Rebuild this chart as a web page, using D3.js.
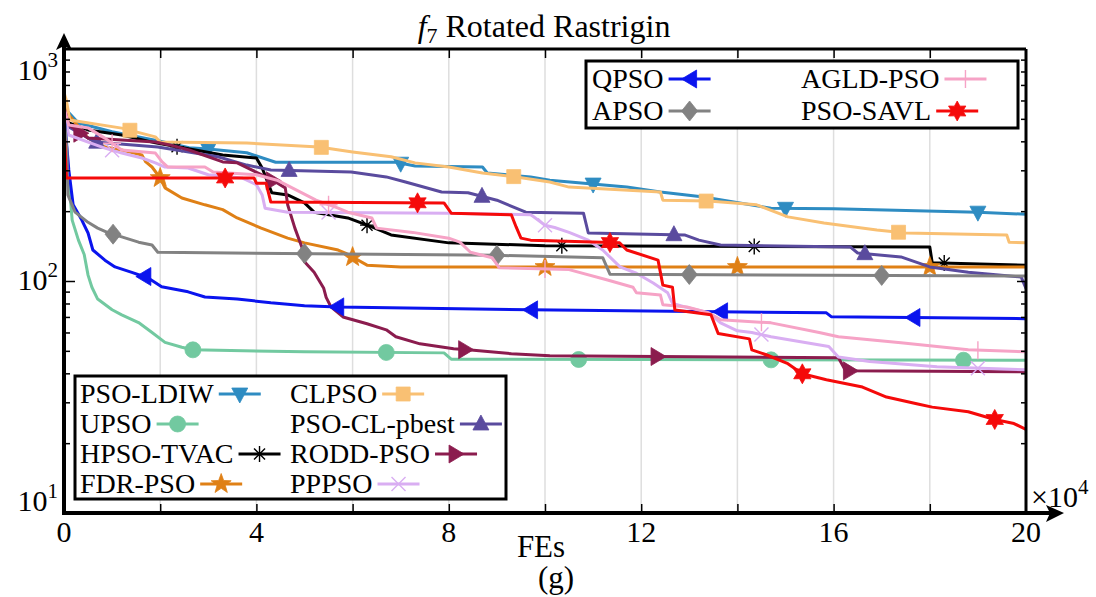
<!DOCTYPE html>
<html><head><meta charset="utf-8">
<script src="https://cdn.jsdelivr.net/npm/d3@7"></script>
<style>
html,body{margin:0;padding:0;background:#fff;}
svg{display:block;}
text{font-family:"Liberation Serif","Times New Roman",Times,serif;fill:#000;}
</style></head><body>
<svg id="chart" width="1096" height="597"></svg>
<script>
// ---- data (FEs in units of 10^4, fitness values) ----
const xLabelTicks = [0, 4, 8, 12, 16, 20];
const xGridTicks = [2, 4, 6, 8, 10, 12, 14, 16, 18];
const yMajorTicks = [10, 100, 1000];
const yMinorTicks = [20, 30, 40, 50, 60, 70, 80, 90, 200, 300, 400, 500, 600, 700, 800, 900];

const PSO_LDIW = [[0,560],[0.3,480],[1.0,440],[2.0,400],[2.6,375],[3.0,371],[3.8,357],[4.4,325],[6.9,325],[7.3,313],[8.7,310],[8.8,292],[9.7,281],[10.1,272],[11.7,254],[12.4,242],[13.3,230],[14.7,206],[16,205],[19,198],[20,194]];
const UPSO = [[0,520],[0.1,272],[0.17,183],[0.3,150],[0.42,130],[0.5,106],[0.58,94],[0.7,83.6],[1.0,75.2],[1.2,71.5],[1.55,66.2],[1.83,60],[2.1,54.4],[2.45,51.8],[2.68,50.5],[5,49.5],[7.9,49.0],[8.05,46],[20,45.5]];
const HPSO_TVAC = [[0,540],[0.1,480],[0.5,448],[1.2,426],[1.9,394],[3.3,349],[4.0,339],[4.12,307],[4.32,240],[4.65,235],[5.0,217],[5.2,198],[5.9,187],[6.4,171],[6.8,158],[8.0,146],[10,142],[18,140],[18.05,120],[20,117]];
const FDR_PSO = [[0,600],[0.1,519],[0.5,413],[0.85,378],[1.2,367],[1.62,349],[1.7,326],[1.83,310],[2.0,278],[2.1,252],[2.45,228],[2.93,213],[3.3,203],[3.6,187],[4.1,169],[4.65,153],[5.0,146],[5.7,136],[5.85,132],[6.3,117],[7,115],[20,115]];
const CLPSO = [[0,650],[0.05,600],[0.12,494],[1.2,456],[1.9,418],[2.0,397],[3.8,393],[5.3,378],[6.0,360],[6.8,343],[7.3,323],[8.0,310],[8.7,292],[9.4,281],[10.1,267],[10.5,254],[12.4,242],[12.45,223],[13.4,221],[14.4,213],[15.05,189],[15.8,178],[16.9,166],[17.5,161],[19.6,158],[19.65,147],[20,146]];
const PSO_CL_pbest = [[0,520],[0.1,461],[0.65,397],[1.95,378],[3.2,343],[3.8,316],[4.3,301],[5.97,295],[6.7,281],[7.1,267],[7.85,242],[8.4,240],[9.0,223],[9.6,198],[10.8,196],[10.9,161],[12.9,158],[13.2,150],[13.65,143],[16.35,140],[16.5,132],[17.4,127],[18.0,115],[18.8,109],[19.9,104],[20,93]];
const RODD_PSO = [[0,560],[0.1,470],[0.5,413],[1.9,397],[2.2,386],[2.6,367],[3.3,326],[3.6,323],[4.2,281],[4.4,267],[4.6,252],[4.65,213],[4.8,169],[4.95,139],[5.0,121],[5.2,109],[5.4,93],[5.45,85],[5.55,77.3],[5.8,70],[6.3,65.4],[6.7,61.6],[6.9,57.5],[7.4,53.6],[8.1,51.0],[8.4,50.5],[9.3,48.6],[10.1,47.6],[16.1,46.7],[16.25,41.0],[20,40.6]];
const PPPSO = [[0,540],[0.1,426],[0.5,397],[0.85,374],[1.2,356],[1.62,339],[1.9,323],[2.1,310],[2.58,307],[3.0,287],[3.7,278],[4.0,260],[4.12,235],[4.18,206],[4.65,198],[8.0,196],[9.7,193],[9.75,190],[10.0,174],[10.2,170],[10.5,162],[10.9,150],[11.2,136],[11.56,115],[11.9,108],[12.25,98],[12.55,89],[12.65,80],[12.95,77],[13.4,73],[13.65,66],[14.0,61],[14.3,60],[14.7,57.5],[15.9,52.2],[16.1,47],[16.75,45],[18.15,42.7],[20,41.4]];
const QPSO = [[0,520],[0.05,400],[0.1,301],[0.19,213],[0.37,183],[0.5,161],[0.6,136],[0.85,123],[1.06,115],[1.41,109],[1.75,103],[2.03,94.4],[2.58,89.8],[2.93,85.3],[3.6,83.6],[4.3,80.6],[5.0,78.3],[5.7,77.3],[9.7,75.1],[15.85,72.9],[15.95,70.2],[20,68.8]];
const APSO = [[0,520],[0.06,367],[0.08,235],[0.23,198],[0.5,179],[0.7,169],[0.9,162],[1.2,155],[1.55,147],[1.83,143],[1.95,133],[9.0,129],[11.2,126],[11.35,107],[20,105]];
const AGLD_PSO = [[0,560],[0.1,470],[0.5,457],[0.85,413],[1.2,367],[1.9,356],[2.04,326],[2.16,310],[2.93,310],[3.1,295],[4.0,287],[4.43,272],[5.24,223],[5.7,206],[5.9,198],[6.4,187],[6.5,169],[7.25,162],[8.0,153],[8.23,147],[8.45,133],[8.9,126],[9.05,114],[10.5,112],[11.3,101],[11.83,94],[11.9,89],[12.4,87],[12.45,79],[12.95,77.3],[13.4,73],[13.65,68],[14.7,66],[15.7,60],[16.1,57.5],[17.4,54.2],[18.8,50.5],[20,49.5]];
const PSO_SAVL = [[0,470],[0.05,278],[3.95,278],[4.0,264],[4.2,264],[4.3,219],[7.9,217],[8.05,196],[9.3,193],[9.4,171],[9.5,153],[9.7,150],[11.55,146],[11.7,136],[12.35,123],[12.45,96],[12.65,94],[12.7,75],[13.45,71.5],[13.6,59.4],[14.25,56.3],[14.3,50.5],[14.6,48.1],[15.05,44.0],[15.35,39.8],[15.85,37.5],[16.6,34.9],[17.1,31.6],[17.75,29.5],[18.05,28.6],[18.8,27.3],[19.35,25.3],[19.75,24.3],[20,22.9]];

// marker positions (FEs, 10^4)
const mk_PSO_LDIW = [3, 7, 11, 15, 19];
const mk_UPSO = [2.68, 6.7, 10.7, 14.7, 18.7];
const mk_HPSO_TVAC = [2.35, 6.3, 10.35, 14.35, 18.3];
const mk_FDR_PSO = [2, 6, 10, 14, 18];
const mk_CLPSO = [1.37, 5.35, 9.35, 13.35, 17.35];
const mk_PSO_CL_pbest = [0.68, 4.68, 8.69, 12.68, 16.65];
const mk_RODD_PSO = [0.35, 4.35, 8.35, 12.35, 16.35];
const mk_PPPSO = [1.0, 5.5, 10.0, 14.5, 19.0];
const mk_QPSO = [1.66, 5.67, 9.7, 13.65, 17.65];
const mk_APSO = [1.02, 5.0, 9.0, 13.0, 17.0];
const mk_AGLD_PSO = [1.0, 5.5, 10.0, 14.5, 19.0];
const mk_PSO_SAVL = [3.35, 7.35, 11.35, 15.35, 19.35];

const series = [
  {name:"PSO-LDIW", data:PSO_LDIW, marks:mk_PSO_LDIW, color:"#2e8cc2", shape:"tri-down"},
  {name:"UPSO", data:UPSO, marks:mk_UPSO, color:"#72c9a0", shape:"circle"},
  {name:"HPSO-TVAC", data:HPSO_TVAC, marks:mk_HPSO_TVAC, color:"#000000", shape:"asterisk"},
  {name:"FDR-PSO", data:FDR_PSO, marks:mk_FDR_PSO, color:"#df8016", shape:"star5"},
  {name:"CLPSO", data:CLPSO, marks:mk_CLPSO, color:"#f9c073", shape:"square"},
  {name:"PSO-CL-pbest", data:PSO_CL_pbest, marks:mk_PSO_CL_pbest, color:"#5a4b9e", shape:"tri-up"},
  {name:"RODD-PSO", data:RODD_PSO, marks:mk_RODD_PSO, color:"#8b1c4e", shape:"tri-right"},
  {name:"PPPSO", data:PPPSO, marks:mk_PPPSO, color:"#d9aef2", shape:"x"},
  {name:"QPSO", data:QPSO, marks:mk_QPSO, color:"#0a14ee", shape:"tri-left"},
  {name:"APSO", data:APSO, marks:mk_APSO, color:"#828282", shape:"diamond"},
  {name:"AGLD-PSO", data:AGLD_PSO, marks:mk_AGLD_PSO, color:"#f6a3c6", shape:"plus"},
  {name:"PSO-SAVL", data:PSO_SAVL, marks:mk_PSO_SAVL, color:"#f50a0a", shape:"star6"}
];
const legendTop = [["QPSO","AGLD-PSO"],["APSO","PSO-SAVL"]];
const legendBottom = [["PSO-LDIW","CLPSO"],["UPSO","PSO-CL-pbest"],["HPSO-TVAC","RODD-PSO"],["FDR-PSO","PPPSO"]];

// ---- layout ----
const L = 64, R = 1026, T = 49, B = 513;
const svg = d3.select("#chart");
const x = d3.scaleLinear().domain([0, 20]).range([L, R]);
const y = d3.scaleLog().domain([10, 1000]).range([B, T]);

svg.append("defs").append("clipPath").attr("id","clip")
  .append("rect").attr("x",L).attr("y",T).attr("width",R-L).attr("height",B-T);

// gridlines
svg.append("g").selectAll("line").data(xGridTicks).join("line")
  .attr("x1", d=>x(d)).attr("x2", d=>x(d)).attr("y1", T).attr("y2", B)
  .attr("stroke", "#dedede").attr("stroke-width", 1.5);

// marker shapes
function starPath(n, ro, ri){
  let p = [];
  for (let i=0;i<2*n;i++){
    const r = i%2===0 ? ro : ri;
    const a = -Math.PI/2 + i*Math.PI/n;
    p.push((r*Math.cos(a)).toFixed(2)+","+(r*Math.sin(a)).toFixed(2));
  }
  return "M"+p.join("L")+"Z";
}
const shapes = {
  "tri-down": {d:"M-8,-6L8,-6L0,9Z", fill:true},
  "tri-up": {d:"M-8,6L8,6L0,-9Z", fill:true},
  "tri-left": {d:"M-8,0L7,-9L7,9Z", fill:true},
  "tri-right": {d:"M8,0L-7,-9L-7,9Z", fill:true},
  "diamond": {d:"M0,-10L8,0L0,10L-8,0Z", fill:true},
  "square": {d:"M-7,-7H7V7H-7Z", fill:true},
  "circle": {d:"M8,0A8,8 0 1,1 -8,0A8,8 0 1,1 8,0Z", fill:true},
  "star5": {d:starPath(5, 10.5, 4.3), fill:true},
  "star6": {d:starPath(6, 10, 5.6), fill:true},
  "plus": {d:"M-9,0H9M0,-9V9", fill:false},
  "x": {d:"M-7,-7L7,7M-7,7L7,-7", fill:false},
  "asterisk": {d:"M-7,0H7M0,-8V8M-5.5,-5.5L5.5,5.5M-5.5,5.5L5.5,-5.5", fill:false}
};
function drawMarker(g, s, cx, cy){
  const sh = shapes[s.shape];
  g.append("path").attr("d", sh.d).attr("transform", `translate(${cx},${cy})`)
    .attr("fill", sh.fill ? s.color : "none")
    .attr("stroke", s.color).attr("stroke-width", sh.fill ? 0.8 : 1.4);
}
function valAt(data, xv){
  for (let i=0;i<data.length-1;i++){
    const a = data[i], b = data[i+1];
    if (xv >= a[0] && xv <= b[0]){
      const t = b[0]===a[0] ? 0 : (xv-a[0])/(b[0]-a[0]);
      return Math.pow(10, Math.log10(a[1]) + t*(Math.log10(b[1])-Math.log10(a[1])));
    }
  }
  return data[data.length-1][1];
}

// lines
const line = d3.line().x(d=>x(d[0])).y(d=>y(d[1]));
const plot = svg.append("g").attr("clip-path","url(#clip)");
series.forEach(s=>{
  const g = plot.append("g");
  g.append("path").datum(s.data).attr("d", line).attr("fill","none")
    .attr("stroke", s.color).attr("stroke-width", 3).attr("stroke-linejoin","round");
  s.marks.forEach(m=> drawMarker(g, s, x(m), y(valAt(s.data, m))));
});

// ticks
svg.append("g").attr("transform",`translate(0,${T})`)
  .call(d3.axisBottom(x).tickValues(xGridTicks).tickSize(9).tickFormat(""))
  .call(g=>g.select(".domain").remove())
  .selectAll("line").attr("stroke","#000").attr("stroke-width",1.5);
svg.append("g").attr("transform",`translate(0,${B})`)
  .call(d3.axisTop(x).tickValues(xGridTicks).tickSize(9).tickFormat(""))
  .call(g=>g.select(".domain").remove())
  .selectAll("line").attr("stroke","#000").attr("stroke-width",1.5);
svg.append("g").attr("transform",`translate(${L},0)`)
  .call(d3.axisRight(y).tickValues(yMinorTicks).tickSize(6).tickFormat(""))
  .call(g=>g.select(".domain").remove())
  .selectAll("line").attr("stroke","#000").attr("stroke-width",1.5);
svg.append("g").attr("transform",`translate(${L},0)`)
  .call(d3.axisRight(y).tickValues([100]).tickSize(11).tickFormat(""))
  .call(g=>g.select(".domain").remove())
  .selectAll("line").attr("stroke","#000").attr("stroke-width",1.5);
svg.append("g").attr("transform",`translate(${R},0)`)
  .call(d3.axisLeft(y).tickValues(yMinorTicks).tickSize(5).tickFormat(""))
  .call(g=>g.select(".domain").remove())
  .selectAll("line").attr("stroke","#000").attr("stroke-width",1.5);
svg.append("g").attr("transform",`translate(${R},0)`)
  .call(d3.axisLeft(y).tickValues([100]).tickSize(9).tickFormat(""))
  .call(g=>g.select(".domain").remove())
  .selectAll("line").attr("stroke","#000").attr("stroke-width",1.5);

// frame and arrows
svg.append("line").attr("x1",L).attr("x2",R).attr("y1",T).attr("y2",T).attr("stroke","#000").attr("stroke-width",3);
svg.append("line").attr("x1",R).attr("x2",R).attr("y1",T).attr("y2",B).attr("stroke","#000").attr("stroke-width",3);
svg.append("line").attr("x1",L).attr("x2",L).attr("y1",B+2).attr("y2",44).attr("stroke","#000").attr("stroke-width",4);
svg.append("line").attr("x1",L-2).attr("x2",1052).attr("y1",B).attr("y2",B).attr("stroke","#000").attr("stroke-width",4);
svg.append("path").attr("d",`M${L},33L${L+8},50L${L},46L${L-8},50Z`).attr("fill","#000");
svg.append("path").attr("d",`M1064,${B}L1046,${B+9}L1050,${B}L1046,${B-8}Z`).attr("fill","#000");

// x tick labels
svg.append("g").selectAll("text").data(xLabelTicks).join("text")
  .attr("x", d=>x(d)).attr("y", 542).attr("text-anchor","middle")
  .style("font-size","30px").text(d=>d);
// y tick labels
const yl = svg.append("g").selectAll("text").data(yMajorTicks).join("text")
  .attr("x", 58).attr("y", d=>Math.max(80, Math.min(511, y(d)+9)))
  .attr("text-anchor","end").style("font-size","30px");
yl.append("tspan").text("10");
yl.append("tspan").attr("dy",-13).style("font-size","21px").text(d=>Math.round(Math.log10(d)));

// axis titles
svg.append("text").attr("x",541).attr("y",557).attr("text-anchor","middle").style("font-size","31px").text("FEs");
svg.append("text").attr("x",556).attr("y",588).attr("text-anchor","middle").style("font-size","31px").text("(g)");
const xe = svg.append("text").attr("x",1031).attr("y",507).style("font-size","30px");
xe.append("tspan").text("\u00d710");
xe.append("tspan").attr("dy",-13).style("font-size","21px").text("4");
const ti = svg.append("text").attr("x",544).attr("y",37).attr("text-anchor","middle").style("font-size","32px");
ti.append("tspan").style("font-style","italic").text("f");
ti.append("tspan").attr("dy",6).style("font-size","22px").text("7");
ti.append("tspan").attr("dy",-6).text(" Rotated Rastrigin");

// legends
function legend(rows, box, colX, rowY, rowH){
  const g = svg.append("g");
  g.append("rect").attr("x",box[0]).attr("y",box[1]).attr("width",box[2]).attr("height",box[3])
    .attr("fill","#fff").attr("stroke","#000").attr("stroke-width",3);
  rows.forEach((row, ri)=>{
    row.forEach((name, ci)=>{
      const s = series.find(d=>d.name===name);
      const cy = rowY + ri*rowH;
      const t = g.append("text").attr("x", colX[ci]).attr("y", cy+9).style("font-size","28px").text(name);
      const w = t.node().getComputedTextLength();
      const x0 = colX[ci] + w + 5;
      g.append("line").attr("x1",x0).attr("x2",x0+42).attr("y1",cy).attr("y2",cy)
        .attr("stroke", s.color).attr("stroke-width",3);
      drawMarker(g, s, x0+21, cy);
    });
  });
}
legend(legendTop, [586, 61, 432, 67], [592, 801], 79, 32);
legend(legendBottom, [75, 376, 431, 123], [80, 290], 394, 30);
</script>
</body></html>
